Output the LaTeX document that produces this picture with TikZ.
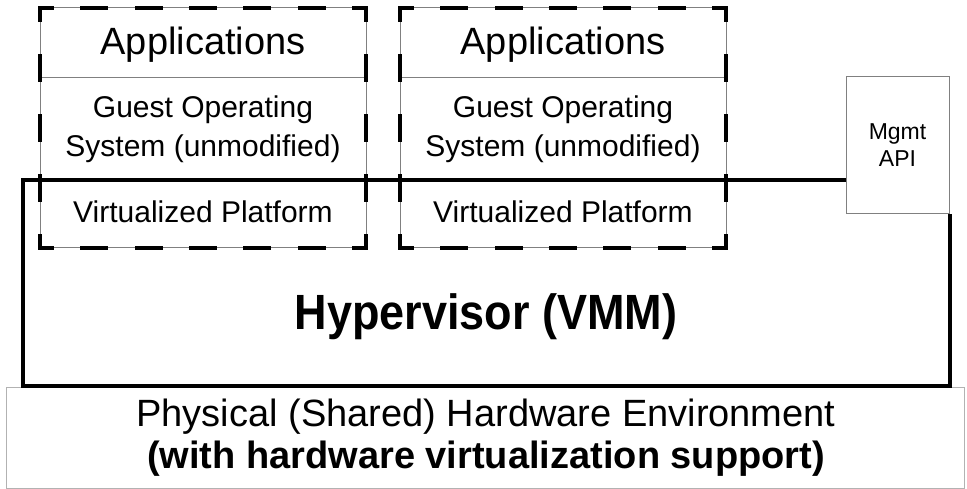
\documentclass[tikz,border=0pt]{standalone}
\usepackage{fontspec}
\setmainfont{Liberation Sans}
\usetikzlibrary{calc}

\tikzset{
  thinline/.style={draw=black!50, line width=1pt},
  vmbox/.style={thinline, rectangle, minimum width=326pt, minimum height=240pt,
                inner sep=0pt, outer sep=0pt},
  hdash/.style={line width=4pt, line cap=rect, dash pattern=on 24pt off 30.33pt, dash phase=12pt},
  vdash/.style={line width=4pt, line cap=rect, dash pattern=on 24pt off 36pt, dash phase=12pt},
  hyper/.style={line width=4pt, line join=miter},
  mgmtbox/.style={draw=black!50, line width=1pt, fill=white, rectangle,
                  minimum width=103pt, minimum height=137pt, inner sep=0pt, outer sep=0pt},
  hwbox/.style={draw=black!30, line width=1pt, fill=white, rectangle,
                minimum width=958pt, minimum height=101pt, inner sep=0pt, outer sep=0pt},
  apptext/.style={anchor=base, inner sep=0pt, font=\fontsize{38}{38}\selectfont},
  ostext/.style={anchor=base, inner sep=0pt, font=\fontsize{30}{30}\selectfont},
  mgmttext/.style={anchor=base, inner sep=0pt, font=\fontsize{23}{23}\selectfont},
  hwtext/.style={anchor=base, inner sep=0pt, font=\fontsize{38}{38}\selectfont},
  hvtext/.style={anchor=base, inner sep=0pt, font=\bfseries\fontsize{45}{45}\selectfont},
}

\begin{document}
\begin{tikzpicture}[x=1pt,y=-1pt]
\useasboundingbox (0,0) rectangle (967,489);

% physical hardware layer
\node[hwbox] (hw) at (485,437.5) {};
\node[hwtext] (hw1) at (486,426) {Physical (Shared) Hardware Environment};
\node[hwtext, font=\bfseries\fontsize{38}{38}\selectfont] (hw2) at (486,468) {(with hardware virtualization support)};

% management API box, sitting on the hypervisor's corner
\node[mgmtbox] (mgmt) at (897.5,145.5) {};
\node[mgmttext] (mg1) at (897.5,140) {Mgmt};
\node[mgmttext] (mg2) at (897.5,167) {API};

% hypervisor outline, open where the management box sits
\coordinate (hvNW) at (23,180);
\coordinate (hvSE) at (949.5,386);
\draw[hyper] (mgmt.west |- hvNW) -- (hvNW) -- (hvNW |- hvSE) -- (hvSE) -- (hvSE |- mgmt.south);
\node[hvtext] (hv) at (486,329) {\scalebox{1}[1.1]{Hypervisor (VMM)}};

% the two virtual machines
\node[vmbox] (vm1) at (203,128) {};
\node[vmbox] (vm2) at (563,128) {};
\foreach \v in {vm1,vm2}{
  \draw[thinline] ($(\v.north west)+(0,70)$) -- ($(\v.north east)+(0,70)$);
  \draw[hdash] (\v.north west) -- (\v.north east);
  \draw[hdash] (\v.south west) -- (\v.south east);
  \draw[vdash] (\v.north west) -- (\v.south west);
  \draw[vdash] (\v.north east) -- (\v.south east);
}

\node[apptext] (app1) at (203,55) {Applications};
\node[ostext] (os1a) at (203,118) {Guest Operating};
\node[ostext] (os1b) at (203,157) {System (unmodified)};
\node[ostext] (vp1) at (203,223) {Virtualized Platform};

\node[apptext] (app2) at (563,55) {Applications};
\node[ostext] (os2a) at (563,118) {Guest Operating};
\node[ostext] (os2b) at (563,157) {System (unmodified)};
\node[ostext] (vp2) at (563,223) {Virtualized Platform};
\end{tikzpicture}
\end{document}
